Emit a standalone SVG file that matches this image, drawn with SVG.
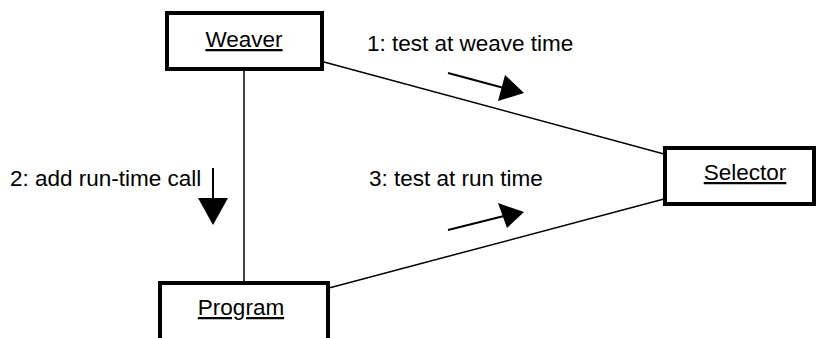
<svg xmlns="http://www.w3.org/2000/svg" width="818" height="338" viewBox="0 0 818 338">
  <style>
    .box { fill: #ffffff; stroke: #000000; stroke-width: 4; }
    .link { stroke: #000000; stroke-width: 1.5; fill: none; }
    .flow { stroke: #000000; stroke-width: 2; fill: none; }
    .head { fill: #000000; stroke: none; }
    text { font-family: "Liberation Sans", Arial, sans-serif; font-size: 22.5px; fill: #000000; }
    .name { text-anchor: middle; text-decoration: underline; }
  </style>

  <!-- associations between objects -->
  <g id="connectors">
    <line class="link" x1="324" y1="62" x2="664" y2="154"/>
    <line class="link" x1="244" y1="71" x2="244" y2="282"/>
    <line class="link" x1="329" y1="288" x2="664" y2="199"/>
  </g>

  <!-- message flows with labels -->
  <g id="msg1">
    <line class="flow" x1="448" y1="73" x2="504" y2="88"/>
    <polygon class="head" points="505,75 524,93 498,101"/>
    <text x="367" y="51">1: test at weave time</text>
  </g>
  <g id="msg2">
    <line class="flow" x1="213" y1="168" x2="213" y2="200"/>
    <polygon class="head" points="198,198 228,198 213,225"/>
    <text x="10" y="186">2: add run-time call</text>
  </g>
  <g id="msg3">
    <line class="flow" x1="448" y1="230" x2="504" y2="216"/>
    <polygon class="head" points="498,203 524,212 507,228"/>
    <text x="369" y="186">3: test at run time</text>
  </g>

  <!-- objects -->
  <g id="weaver">
    <rect class="box" x="167" y="13" width="155" height="56"/>
    <text class="name" x="244" y="47">Weaver</text>
  </g>
  <g id="selector">
    <rect class="box" x="665" y="148" width="149" height="56"/>
    <text class="name" x="745" y="180">Selector</text>
  </g>
  <g id="program">
    <rect class="box" x="160" y="283" width="168" height="70"/>
    <text class="name" x="241" y="315">Program</text>
  </g>
</svg>
